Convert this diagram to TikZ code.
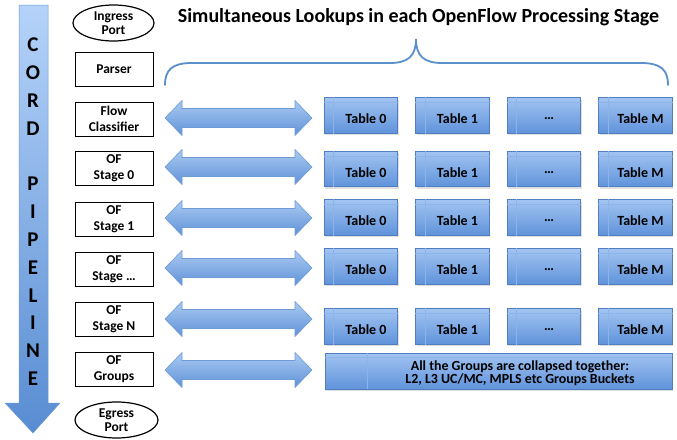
\documentclass[tikz,border=0pt]{standalone}
\usepackage{fontspec}
\setmainfont{Carlito}
\usetikzlibrary{shapes.geometric,shadows}
\definecolor{bracecol}{RGB}{91,143,201}
\definecolor{tabtop}{RGB}{162,196,241}
\definecolor{tabbot}{RGB}{96,147,219}
\definecolor{tabline}{RGB}{80,126,193}
\definecolor{tabinner}{RGB}{140,180,232}
\definecolor{arrtop}{RGB}{170,202,242}
\definecolor{arrbot}{RGB}{96,146,216}
\definecolor{arrline}{RGB}{110,155,215}
\definecolor{pipetop}{RGB}{181,211,249}
\definecolor{pipebot}{RGB}{88,140,210}
\tikzset{
  stagebox/.style={draw=black,line width=0.9pt,fill=white,minimum width=78pt,minimum height=34pt,inner sep=0pt,align=center,font=\bfseries\fontsize{13.5}{15.5}\selectfont},
  portell/.style={draw=black,line width=1.2pt,fill=white,ellipse,minimum width=81pt,minimum height=36pt,inner sep=0pt,align=center,font=\bfseries\fontsize{13.5}{14}\selectfont},
  tablebox/.style={draw=tabline,line width=0.6pt,top color=tabtop,bottom color=tabbot,minimum width=73.5pt,minimum height=35.5pt,inner sep=0pt,
    drop shadow={opacity=0.25,shadow xshift=0.8pt,shadow yshift=-1.8pt}},
  tabtext/.style={font=\bfseries\fontsize{14}{15}\selectfont,inner sep=0pt},
  dblarrow/.style={draw=arrline,line width=0.6pt,top color=arrtop,bottom color=arrbot},
  pipeletter/.style={font=\bfseries\fontsize{21}{21}\selectfont,inner sep=0pt}
}
\begin{document}
\begin{tikzpicture}[x=1pt,y=-1pt]
\useasboundingbox (0,0) rectangle (677,439);
% pipeline arrow
\shade[top color=pipetop,bottom color=pipebot,draw=arrline,line width=0.5pt]
  (19,5) -- (48,5) -- (48,403) -- (60,403) -- (33,433) -- (5,403) -- (19,403) -- cycle;
\foreach \ch [count=\i from 0] in {C,O,R,D,{},P,I,P,E,L,I,N,E}{
  \node[pipeletter] (pl\i) at (33,45+27.8*\i) {\ch};
}
% title
\node[font=\bfseries\fontsize{20}{22}\selectfont,inner sep=0pt] (title) at (418.5,17.5) {Simultaneous Lookups in each OpenFlow Processing Stage};
% brace
\draw[bracecol,line width=1.8pt,line cap=round]
  (165,85) .. controls (165,70) and (172,63) .. (192,63) -- (390,63)
  .. controls (408,63) and (416,56) .. (416,39)
  .. controls (416,56) and (424,63) .. (442,63) -- (641,63)
  .. controls (661,63) and (668,70) .. (668,85);
% ports
\node[portell] (ingress) at (113.5,23) {Ingress\\Port};
\node[portell,minimum width=83pt] (egress) at (116.5,420) {Egress\\Port};
% stage boxes
\node[stagebox] (parser) at (114,69.5) {Parser};
\node[stagebox] (flow) at (114,119) {Flow\\Classifier};
\node[stagebox] (st0) at (114,168) {OF\\Stage 0};
\node[stagebox] (st1) at (114,219) {OF\\Stage 1};
\node[stagebox] (stx) at (114,269) {OF\\Stage \dots};
\node[stagebox] (stn) at (114,319) {OF\\Stage N};
\node[stagebox] (grp) at (114,369) {OF\\Groups};
% double arrows
\foreach \yy in {118,167,218,268,319,370}{
  \shade[dblarrow] (165,\yy) -- (182,\yy-17.5) -- (182,\yy-9.5) -- (295,\yy-9.5) -- (295,\yy-17.5)
    -- (312,\yy) -- (295,\yy+17.5) -- (295,\yy+9.5) -- (182,\yy+9.5) -- (182,\yy+17.5) -- cycle;
}
% tables
\foreach \r/\yy in {1/115.5,2/169,3/217.5,4/266.5,5/326.5}{
  \foreach \c/\xx/\lab in {0/361/Table 0,1/452.5/Table 1,2/544/\dots,3/635.5/Table M}{
    \node[tablebox] (t\r\c) at (\xx,\yy) {};
    \draw[tabinner,line width=0.6pt] ([yshift=-5pt]t\r\c.north west) -- ([yshift=-5pt]t\r\c.north east);
    \draw[tabinner,line width=0.6pt] ([xshift=9.5pt]t\r\c.north west) -- ([xshift=9.5pt]t\r\c.south west);
    \node[tabtext] (tt\r\c) at ([xshift=5pt,yshift=-3.5pt]t\r\c.center) {\lab};
  }
}
% groups bar
\node[tablebox,minimum width=347pt,minimum height=36pt] (gbar) at (498.5,371) {};
\draw[tabinner,line width=0.6pt] ([yshift=-5pt]gbar.north west) -- ([yshift=-5pt]gbar.north east);
\draw[tabinner,line width=0.6pt] ([xshift=43pt]gbar.north west) -- ([xshift=43pt]gbar.south west);
\node[font=\bfseries\fontsize{13.9}{13}\selectfont,align=center,inner sep=0pt] (gtext) at (520,373.5)
  {All the Groups are collapsed together:\\L2, L3 UC/MC, MPLS etc Groups Buckets};
\end{tikzpicture}
\end{document}
